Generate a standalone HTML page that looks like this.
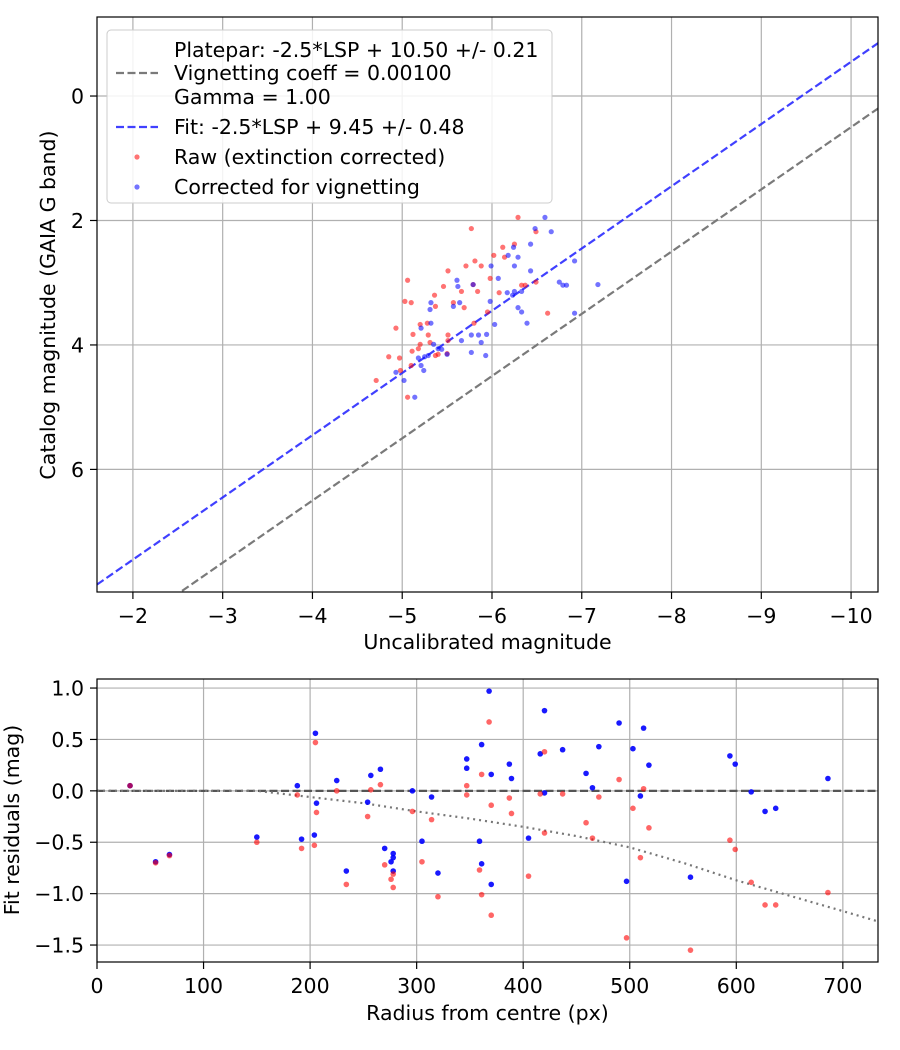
<!DOCTYPE html>
<html><head><meta charset="utf-8"><style>
html,body{margin:0;padding:0;background:#fff;}
svg{display:block;font-family:"DejaVu Sans","Liberation Sans",sans-serif;}
</style></head><body>
<svg id="c" width="900" height="1050" viewBox="0 0 900 1050"></svg>
<script>
// ---- top chart data ----
const topXTicks = [-2,-3,-4,-5,-6,-7,-8,-9,-10];
const topYTicks = [0,2,4,6];
const plateparOffset = 10.50;
const fitOffset = 9.45;
const rawX = [-6.29,-5.77,-6.49,-6.25,-6.12,-6.14,-6.02,-5.81,-5.71,-5.88,-5.51,-5.06,-5.98,-5.46,-5.79,-5.84,-5.66,-6.08,-6.33,-6.37,-6.49,-5.36,-5.03,-5.10,-5.57,-5.37,-5.69,-6.62,-5.95,-4.93,-5.20,-5.28,-5.80,-5.12,-5.29,-5.51,-5.20,-5.31,-5.51,-5.11,-5.18,-5.37,-5.40,-5.50,-4.85,-4.97,-5.10,-4.98,-4.71,-5.06];
const rawY = [1.95,2.13,2.18,2.38,2.43,2.59,2.56,2.65,2.73,2.73,2.81,2.96,2.93,3.06,3.03,3.14,3.14,3.16,3.04,3.04,2.99,3.20,3.30,3.32,3.32,3.38,3.40,3.49,3.47,3.73,3.67,3.65,3.65,3.83,3.84,3.84,3.99,3.96,3.93,4.10,4.06,4.17,4.15,4.14,4.19,4.21,4.33,4.41,4.57,4.84];
const corX = [-6.59,-6.48,-6.66,-6.24,-6.43,-6.18,-6.29,-6.92,-6.25,-5.99,-6.43,-5.61,-6.07,-5.62,-5.79,-6.75,-6.79,-6.83,-7.18,-6.17,-6.25,-6.33,-6.23,-5.32,-5.64,-5.98,-5.57,-5.31,-6.29,-6.33,-6.92,-5.32,-6.03,-6.39,-5.21,-5.77,-5.85,-5.94,-5.66,-5.88,-5.35,-5.40,-5.44,-5.50,-5.77,-5.93,-5.18,-5.25,-5.29,-5.21,-5.24,-5.02,-5.14,-4.93];
const corY = [1.95,2.13,2.18,2.43,2.38,2.56,2.59,2.65,2.73,2.73,2.81,2.96,2.93,3.06,3.03,2.99,3.04,3.04,3.03,3.16,3.14,3.14,3.20,3.32,3.32,3.30,3.38,3.43,3.40,3.47,3.49,3.65,3.67,3.65,3.73,3.84,3.84,3.83,3.93,3.96,3.99,4.06,4.07,4.15,4.12,4.17,4.21,4.19,4.17,4.33,4.41,4.57,4.84,4.44];
// ---- bottom chart data ----
const botXTicks = [0,100,200,300,400,500,600,700];
const botYTicks = [1.0,0.5,0.0,-0.5,-1.0,-1.5];
const resR = [31,55,68,150,188,192,205,204,206,225,234,254,257,266,270,278,278,276,278,296,305,314,320,347,347,359,361,361,368,370,370,387,389,405,416,420,420,437,459,465,471,490,497,503,510,513,518,557,594,599,614,627,637,686];
const blueRes = [0.05,-0.69,-0.62,-0.45,0.05,-0.47,0.56,-0.43,-0.12,0.10,-0.78,-0.11,0.15,0.21,-0.56,-0.61,-0.65,-0.69,-0.78,0.00,-0.49,-0.06,-0.80,0.31,0.22,-0.49,0.45,-0.71,0.97,0.16,-0.91,0.26,0.12,-0.46,0.36,-0.02,0.78,0.40,0.17,0.03,0.43,0.66,-0.88,0.41,-0.05,0.61,0.25,-0.84,0.34,0.26,-0.01,-0.20,-0.17,0.12];
const redR = [31,55,68,150,188,192,205,204,206,225,234,254,257,266,270,278,276,278,296,305,314,320,347,347,359,361,361,368,370,370,387,389,405,416,420,420,437,459,465,471,490,497,503,510,513,518,557,594,599,614,627,637,686];
const redRes = [0.05,-0.70,-0.63,-0.50,-0.04,-0.56,0.47,-0.53,-0.21,0.00,-0.91,-0.25,0.01,0.06,-0.72,-0.81,-0.86,-0.94,-0.20,-0.69,-0.28,-1.03,0.05,-0.04,-0.77,0.16,-1.01,0.67,-0.14,-1.21,-0.07,-0.22,-0.83,-0.03,-0.41,0.38,-0.03,-0.31,-0.46,-0.06,0.11,-1.43,-0.17,-0.65,0.02,-0.36,-1.55,-0.48,-0.57,-0.89,-1.11,-1.11,-0.99];
const vigR = [0,100,150,200,250,300,350,400,450,500,550,600,650,700,733];
const vigY = [0,0,0,-0.06,-0.12,-0.20,-0.27,-0.35,-0.44,-0.55,-0.70,-0.87,-1.02,-1.17,-1.27];

const FS = 20.5;
const NS='http://www.w3.org/2000/svg';
const svg=document.getElementById('c');
function mk(tag,attrs,parent){const e=document.createElementNS(NS,tag);for(const k in attrs)e.setAttribute(k,attrs[k]);(parent||svg).appendChild(e);return e;}

const T={l:97,r:878,t:17,b:592,x0:-1.6,x1:-10.3,y0:-1.27,y1:7.97};
const tx=v=>T.l+(v-T.x0)/(T.x1-T.x0)*(T.r-T.l);
const ty=v=>T.t+(v-T.y0)/(T.y1-T.y0)*(T.b-T.t);
const B={l:97,r:878,t:679,b:962,x0:0,x1:733,y0:1.088,y1:-1.665};
const bx=v=>B.l+(v-B.x0)/(B.x1-B.x0)*(B.r-B.l);
const by=v=>B.t+(v-B.y0)/(B.y1-B.y0)*(B.b-B.t);

// ---------- TOP ----------
const gTop=mk('g',{});


mk('defs',{},gTop).innerHTML='<clipPath id="ct"><rect x="97" y="17" width="781" height="575"/></clipPath><clipPath id="cb"><rect x="97" y="679" width="781" height="283"/></clipPath>';
topXTicks.forEach(v=>{const x=tx(v);
 const l=mk('line',{x1:x,x2:x,y1:T.t,y2:T.b,stroke:'#b0b0b0','stroke-width':1.2},gTop);
 
 mk('line',{x1:x,x2:x,y1:T.b,y2:T.b+7,stroke:'#000','stroke-width':1.2},gTop);
 const t=mk('text',{x:x,y:T.b+31,'font-size':FS,'text-anchor':'middle'},gTop);t.textContent=(v<0?'\u2212'+(-v):v);
 });
topYTicks.forEach(v=>{const y=ty(v);
 const l=mk('line',{x1:T.l,x2:T.r,y1:y,y2:y,stroke:'#b0b0b0','stroke-width':1.2},gTop);
 
 mk('line',{x1:T.l-7,x2:T.l,y1:y,y2:y,stroke:'#000','stroke-width':1.2},gTop);
 const t=mk('text',{x:T.l-13,y:y+7.5,'font-size':FS,'text-anchor':'end'},gTop);t.textContent=v;
 });
const gc=mk('g',{'clip-path':'url(#ct)'},gTop);
function fitLine(off,color,name){const l=mk('line',{x1:tx(T.x0),y1:ty(T.x0+off),x2:tx(T.x1),y2:ty(T.x1+off),stroke:color,'stroke-width':2.2,'stroke-dasharray':'8,3.5'},gc);
 }
fitLine(plateparOffset,'#7a7a7a','platepar-line');
fitLine(fitOffset,'rgba(30,30,255,0.85)','fit-line');
rawX.forEach((v,i)=>{const c=mk('circle',{cx:tx(v),cy:ty(rawY[i]),r:2.6,fill:'rgba(255,0,0,0.55)'},gc);
 });
corX.forEach((v,i)=>{const c=mk('circle',{cx:tx(v),cy:ty(corY[i]),r:2.6,fill:'rgba(0,0,255,0.55)'},gc);
 });
mk('rect',{x:T.l,y:T.t,width:T.r-T.l,height:T.b-T.t,fill:'none',stroke:'#000','stroke-width':1.2},gTop);
let t=mk('text',{x:(T.l+T.r)/2,y:649,'font-size':FS,'text-anchor':'middle'},gTop);t.textContent='Uncalibrated magnitude';

t=mk('text',{x:0,y:0,'font-size':FS,'text-anchor':'middle',transform:'translate(55,305) rotate(-90)'},gTop);t.textContent='Catalog magnitude (GAIA G band)';

// legend
const lg=mk('g',{},gTop);

mk('rect',{x:107,y:30,width:445,height:173,rx:4,fill:'rgba(255,255,255,0.85)',stroke:'#ccc','stroke-width':1},lg);
const leg=[['Platepar: -2.5*LSP + 10.50 +/- 0.21',null],['Vignetting coeff = 0.00100','gray'],['Gamma = 1.00',null],['Fit: -2.5*LSP + 9.45 +/- 0.48','blue'],['Raw (extinction corrected)','rdot'],['Corrected for vignetting','bdot']];
const ly=[57,80,104,134,164,194];
leg.forEach((e,i)=>{const y=ly[i];
 if(e[1]==='gray')mk('line',{x1:116,x2:158,y1:y-7,y2:y-7,stroke:'#7a7a7a','stroke-width':2.2,'stroke-dasharray':'8,3.5'},lg);
 if(e[1]==='blue')mk('line',{x1:116,x2:158,y1:y-7,y2:y-7,stroke:'rgba(30,30,255,0.85)','stroke-width':2.2,'stroke-dasharray':'8,3.5'},lg);
 if(e[1]==='rdot')mk('circle',{cx:137,cy:y-7,r:2.6,fill:'rgba(255,0,0,0.55)'},lg);
 if(e[1]==='bdot')mk('circle',{cx:137,cy:y-7,r:2.6,fill:'rgba(0,0,255,0.55)'},lg);
 const tt=mk('text',{x:174,y:y,'font-size':FS},lg);tt.textContent=e[0];
 });

// ---------- BOTTOM ----------
const gB=mk('g',{});


botXTicks.forEach(v=>{const x=bx(v);
 const l=mk('line',{x1:x,x2:x,y1:B.t,y2:B.b,stroke:'#b0b0b0','stroke-width':1.2},gB);
 
 mk('line',{x1:x,x2:x,y1:B.b,y2:B.b+7,stroke:'#000','stroke-width':1.2},gB);
 const tt=mk('text',{x:x,y:B.b+31,'font-size':FS,'text-anchor':'middle'},gB);tt.textContent=v;
 });
botYTicks.forEach(v=>{const y=by(v);
 const l=mk('line',{x1:B.l,x2:B.r,y1:y,y2:y,stroke:'#b0b0b0','stroke-width':1.2},gB);
 
 mk('line',{x1:B.l-7,x2:B.l,y1:y,y2:y,stroke:'#000','stroke-width':1.2},gB);
 const tt=mk('text',{x:B.l-13,y:y+7.5,'font-size':FS,'text-anchor':'end'},gB);tt.textContent=(v<0?'\u2212'+(-v).toFixed(1):v.toFixed(1));
 });
const gbc=mk('g',{'clip-path':'url(#cb)'},gB);
let zl=mk('line',{x1:B.l,x2:B.r,y1:by(0),y2:by(0),stroke:'#555','stroke-width':2.2,'stroke-dasharray':'8,3.5'},gbc);

let vp=mk('polyline',{points:vigR.map((r,i)=>bx(r)+','+by(vigY[i])).join(' '),fill:'none',stroke:'#777','stroke-width':2.2,'stroke-dasharray':'2,4'},gbc);

resR.forEach((r,i)=>{const c=mk('circle',{cx:bx(r),cy:by(blueRes[i]),r:2.8,fill:'rgba(0,0,255,0.9)'},gbc);
 });
redR.forEach((r,i)=>{const c=mk('circle',{cx:bx(r),cy:by(redRes[i]),r:2.8,fill:'rgba(255,0,0,0.6)'},gbc);
 });
mk('rect',{x:B.l,y:B.t,width:B.r-B.l,height:B.b-B.t,fill:'none',stroke:'#000','stroke-width':1.2},gB);
t=mk('text',{x:(B.l+B.r)/2,y:1020,'font-size':FS,'text-anchor':'middle'},gB);t.textContent='Radius from centre (px)';

t=mk('text',{x:0,y:0,'font-size':FS,'text-anchor':'middle',transform:'translate(19,820) rotate(-90)'},gB);t.textContent='Fit residuals (mag)';

</script>
</body></html>
